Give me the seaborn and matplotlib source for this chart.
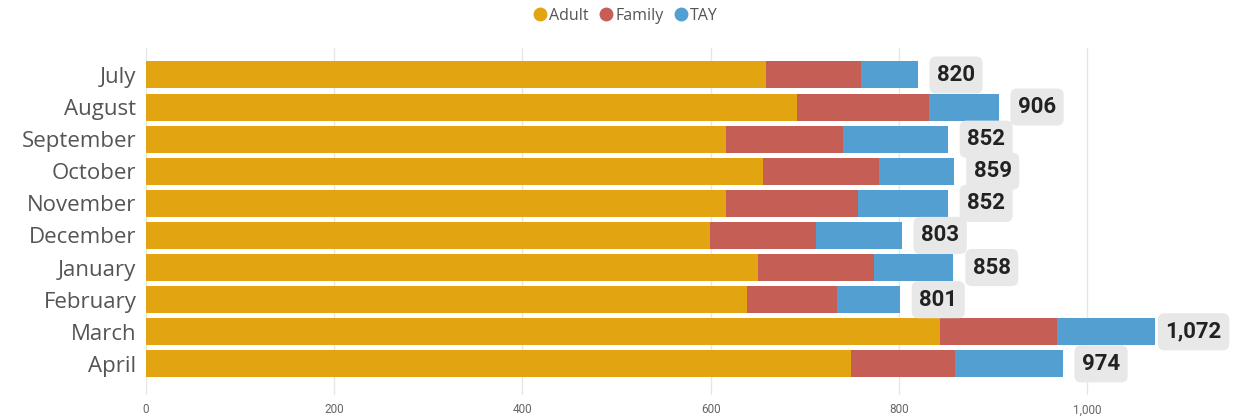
import matplotlib
matplotlib.use("Agg")
import matplotlib.pyplot as plt
import seaborn as sns
import pandas as pd
import numpy as np
from matplotlib.lines import Line2D

months = ["July", "August", "September", "October", "November",
          "December", "January", "February", "March", "April"]
adult = [659, 692, 616, 656, 616, 599, 650, 639, 844, 749]
family = [101, 140, 125, 123, 141, 113, 124, 95, 124, 111]
tay = [60, 74, 111, 80, 95, 91, 84, 67, 104, 114]
totals = [820, 906, 852, 859, 852, 803, 858, 801, 1072, 974]
series_names = ["Adult", "Family", "TAY"]
colors = {"Adult": "#E2A511", "Family": "#C55F56", "TAY": "#539FD2"}
x_ticks = [0, 200, 400, 600, 800, 1000]

df = pd.DataFrame({"month": months, "Adult": adult, "Family": family, "TAY": tay})
df["c_family"] = df["Adult"] + df["Family"]
df["c_tay"] = df["c_family"] + df["TAY"]

sns.set_theme(style="white")
plt.rcParams["font.family"] = ["Open Sans", "DejaVu Sans"]

fig = plt.figure(figsize=(12.33, 4.16), dpi=100)
ax = fig.add_axes([146 / 1233, 21 / 416, (1230 - 146) / 1233, (368 - 21) / 416])

W = 0.84
sns.barplot(data=df, y="month", x="c_tay", color=colors["TAY"], orient="h",
            width=W, ax=ax, saturation=1, linewidth=0, order=months)
sns.barplot(data=df, y="month", x="c_family", color=colors["Family"], orient="h",
            width=W, ax=ax, saturation=1, linewidth=0, order=months)
sns.barplot(data=df, y="month", x="Adult", color=colors["Adult"], orient="h",
            width=W, ax=ax, saturation=1, linewidth=0, order=months)

ax.set_xlim(0, (1230 - 146) / 0.941)
ax.set_ylim(9.97, -0.84)
ax.set_xticks(x_ticks)
ax.set_xticklabels([f"{v:,}" for v in x_ticks], fontsize=8.5, color="#666666",
                   family=["Roboto", "DejaVu Sans"])
ax.tick_params(axis="x", length=0, pad=6)
ax.tick_params(axis="y", length=0, pad=7, labelsize=16, labelcolor="#555555")
ax.set_xlabel("")
ax.set_ylabel("")
ax.grid(axis="x", color="#E6E6E6", linewidth=1)
ax.set_axisbelow(True)
for s in ax.spines.values():
    s.set_visible(False)

for i, t in enumerate(totals):
    bbox = dict(boxstyle="round,pad=0.34,rounding_size=0.3", fc="#E8E8E8", ec="none")
    if t > 1050:
        ax.annotate(f"{t:,}", xy=(1, i), xycoords=ax.get_yaxis_transform(),
                    xytext=(-6, 0), textcoords="offset points", ha="right", va="center",
                    fontsize=16, fontweight="bold", color="#222222",
                    family=["Roboto", "DejaVu Sans"], bbox=bbox)
    else:
        ax.annotate(f"{t:,}", xy=(t, i), xytext=(14, 0), textcoords="offset points",
                    ha="left", va="center", fontsize=16, fontweight="bold",
                    color="#222222", family=["Roboto", "DejaVu Sans"], bbox=bbox)

handles = [Line2D([0], [0], marker="o", linestyle="", markersize=10,
                  markerfacecolor=colors[n], markeredgecolor="none") for n in series_names]
fig.legend(handles, series_names, loc="center", bbox_to_anchor=(625 / 1233, 1 - 16 / 416),
           ncol=3, frameon=False, fontsize=11.5, labelcolor="#555555",
           handletextpad=0.05, columnspacing=0.6, handlelength=1.0)

fig.savefig("out.png", dpi=100)
